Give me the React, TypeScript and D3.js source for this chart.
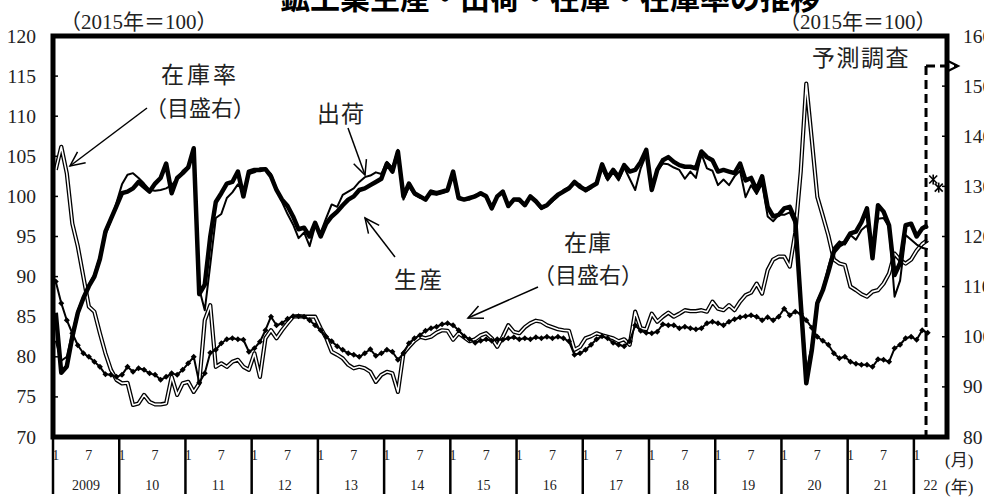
import React from 'react';
import * as d3 from 'd3';

// ---- data (Jan 2009 .. Mar 2022, monthly) ----
const yearLabels = ['2009', '10', '11', '12', '13', '14', '15', '16', '17', '18', '19', '20', '21', '22'];
const monthLabels = ['1', '7'];
const axisMonths = 162; // Jan 2009 .. Jun 2022

// 生産 (left axis)
const production = [
  85.5, 78.0, 78.8, 82.5, 85.5, 87.3, 88.8, 90.0, 92.2, 95.6, 97.2, 98.8,
  100.4, 100.6, 101.0, 101.8, 101.2, 100.6, 101.6, 102.3, 104.1, 100.4, 102.3, 102.9,
  103.6, 106.0, 87.8, 89.0, 95.0, 99.3, 100.4, 101.6, 101.8, 103.1, 100.0, 103.1,
  103.3, 103.3, 103.4, 102.5, 100.8, 99.6, 98.8, 97.5, 95.9, 96.1, 95.0, 96.7,
  95.0, 96.6, 97.5, 98.1, 98.9, 99.6, 100.0, 100.8, 101.0, 101.4, 101.8, 102.2,
  104.1, 103.1, 105.6, 100.0, 101.6, 100.4, 100.0, 99.6, 100.6, 100.4, 100.6, 100.8,
  103.1, 99.8, 99.6, 99.8, 100.0, 100.4, 100.0, 98.5, 100.0, 100.6, 98.8, 99.6,
  99.6, 98.9, 100.0, 99.4, 98.6, 98.9, 99.6, 100.2, 100.6, 101.0, 101.8, 101.2,
  100.8, 101.2, 101.6, 104.0, 102.3, 103.3, 102.4, 103.9, 103.1, 103.3, 104.3, 105.8,
  100.8, 103.3, 104.5, 104.9, 104.3, 103.9, 103.7, 103.7, 103.5, 105.6, 104.9, 104.5,
  103.1, 103.3, 103.1, 102.9, 104.1, 102.0, 102.3, 100.8, 102.5, 98.7, 97.5, 97.7,
  98.5, 98.7, 97.1, 86.7, 76.7, 80.8, 86.7, 88.3, 90.6, 93.1, 93.9, 94.3,
  95.4, 95.6, 96.8, 98.5, 92.3, 98.9, 98.1, 96.4, 90.2, 91.7, 96.4, 96.6,
  95.0, 96.0, 96.4,
];

// 出荷 (left axis)
const shipments = [
  82.0, 79.5, 80.0, 83.0, 85.8, 87.5, 89.0, 90.3, 92.5, 95.2, 97.0, 99.2,
  101.5, 102.7, 102.9, 102.3, 101.6, 100.8, 100.7, 100.8, 101.0, 101.4, 102.2, 103.2,
  103.8, 105.0, 88.5, 85.8, 91.5, 97.3, 97.8, 99.8, 100.5, 101.5, 100.6, 102.8,
  103.0, 103.5, 103.5, 102.8, 101.0, 99.3, 97.8, 96.5, 94.8, 95.5, 93.8, 96.3,
  95.5, 97.3, 99.0, 98.7, 100.2, 100.6, 101.0, 101.8, 102.4, 102.6, 103.0, 102.8,
  104.3, 103.6, 105.8, 99.6, 101.2, 100.2, 99.8, 99.8, 100.3, 100.2, 100.4, 100.6,
  102.8, 100.0, 99.6, 99.6, 100.2, 100.2, 100.2, 98.8, 100.0, 100.4, 98.8, 99.6,
  99.4, 99.0, 99.8, 99.2, 98.4, 98.8, 99.4, 100.0, 100.8, 101.2, 101.6, 101.5,
  100.6, 101.0, 101.8, 103.4, 102.0, 103.0, 102.0, 103.6, 102.2, 100.8, 103.5, 105.2,
  100.8, 103.2, 104.1, 104.0, 103.6, 103.3, 102.2, 103.1, 102.3, 105.3, 103.5, 103.2,
  101.4, 102.1, 101.4, 102.5, 103.2, 99.9, 101.4, 100.3, 101.6, 97.5, 96.9, 97.7,
  97.7, 98.0, 96.5, 87.5, 78.0, 81.5, 87.0, 88.5, 91.2, 93.6, 94.4, 94.0,
  95.2, 94.6, 95.8, 96.4, 93.8, 97.2, 97.3, 96.2, 87.5, 89.5, 95.2, 94.6,
  94.0, 93.6, 93.4,
];

// 在庫 (right axis)
const inventory = [
  111.0, 106.7, 103.3, 100.7, 98.3, 96.7, 96.0, 95.0, 94.0, 92.5, 92.4, 92.0,
  92.4, 94.0, 93.0, 93.7, 93.4, 92.7, 92.4, 91.4, 92.0, 92.7, 92.4, 93.4,
  94.7, 96.0, 90.8, 92.7, 96.8, 97.4, 98.7, 99.5, 99.7, 99.5, 99.4, 97.0,
  97.7, 99.0, 101.3, 104.0, 102.3, 102.7, 103.6, 104.1, 104.1, 104.0, 103.3, 102.3,
  101.3, 100.0, 99.1, 98.1, 97.4, 96.7, 96.4, 96.0, 96.7, 97.5, 96.2, 96.7,
  97.4, 97.0, 95.4, 96.7, 98.7, 99.7, 100.3, 101.2, 101.7, 102.0, 102.5, 102.7,
  102.3, 101.3, 100.1, 99.5, 98.8, 99.2, 99.5, 99.2, 99.5, 99.4, 99.7, 99.9,
  99.5, 99.7, 99.5, 99.9, 99.7, 100.0, 99.7, 100.0, 99.7, 99.1, 96.4, 96.7,
  97.4, 98.4, 99.5, 100.1, 99.7, 98.8, 98.4, 98.1, 99.1, 102.3, 101.2, 100.8,
  100.7, 101.0, 102.5, 102.3, 102.3, 101.7, 102.0, 101.7, 101.5, 101.7, 102.7, 103.0,
  102.7, 102.3, 103.0, 103.5, 103.9, 104.1, 104.3, 104.0, 103.3, 103.9, 103.3, 104.0,
  105.6, 104.3, 105.0, 104.6, 103.3, 101.8, 100.0, 99.2, 98.4, 96.7, 95.7, 96.0,
  95.0, 94.6, 94.4, 94.4, 94.0, 95.5, 95.4, 95.0, 97.7, 98.4, 99.7, 100.0,
  99.4, 101.3, 100.8,
];

// 在庫率 (right axis)
const inventoryRatio = [
  133.3, 137.9, 132.6, 122.6, 118.0, 112.0, 106.0, 105.0, 100.7, 96.7, 93.4, 91.4,
  90.7, 90.8, 86.4, 86.7, 88.4, 87.0, 86.5, 86.5, 86.7, 92.0, 88.4, 90.7,
  91.0, 89.0, 90.7, 103.3, 106.3, 94.0, 94.7, 94.0, 95.0, 95.4, 94.0, 93.4,
  96.7, 92.0, 99.7, 101.3, 99.7, 101.3, 102.7, 104.0, 104.1, 104.0, 104.0, 104.0,
  101.7, 99.8, 97.0, 96.4, 95.7, 94.4, 93.7, 94.0, 93.7, 93.0, 91.0, 92.4,
  93.0, 92.7, 89.0, 96.7, 98.0, 99.2, 100.0, 99.7, 100.0, 100.8, 101.3, 101.2,
  99.4, 100.7, 99.9, 99.1, 99.5, 100.3, 100.7, 99.7, 98.0, 100.0, 102.3, 101.0,
  100.7, 101.9, 102.7, 103.2, 103.0, 102.3, 101.9, 101.5, 101.3, 101.2, 97.4, 98.0,
  99.7, 100.1, 100.7, 100.3, 100.0, 99.7, 99.1, 99.5, 98.4, 105.0, 101.7, 101.5,
  104.6, 103.0, 104.0, 104.8, 104.0, 104.6, 105.3, 105.1, 105.1, 105.3, 105.0, 107.0,
  105.6, 105.3, 106.3, 105.3, 107.0, 108.3, 108.8, 110.6, 108.6, 113.3, 115.4, 116.0,
  116.0, 114.0, 120.7, 133.0, 150.5, 139.3, 127.9, 124.1, 120.2, 115.4, 114.6, 114.3,
  110.0, 109.3, 108.5, 108.0, 109.0, 109.3, 110.6, 112.6, 116.6, 115.3, 114.6, 115.4,
  117.2, 118.5, 119.3,
];

// 予測調査 (production forecast, Apr & May 2022)
const forecastIndex = [159, 160];
const forecastProduction = [102.1, 101.1];
const forecastStart = 158.2;

const leftTicks = [70, 75, 80, 85, 90, 95, 100, 105, 110, 115, 120];
const rightTicks = [80, 90, 100, 110, 120, 130, 140, 150, 160];

const SERIF = "'Liberation Serif', 'Noto Sans CJK JP', serif";
const CJK = "'Noto Sans CJK JP', 'Liberation Serif', sans-serif";

function Arrow({ x1, y1, x2, y2 }: { x1: number; y1: number; x2: number; y2: number }) {
  const ang = Math.atan2(y1 - y2, x1 - x2);
  const L = 16;
  const t = (25 * Math.PI) / 180;
  const a1 = [x2 + L * Math.cos(ang + t), y2 + L * Math.sin(ang + t)];
  const a2 = [x2 + L * Math.cos(ang - t), y2 + L * Math.sin(ang - t)];
  return (
    <g stroke="#000" strokeWidth={1.5} fill="none">
      <line x1={x1} y1={y1} x2={x2} y2={y2} />
      <polyline points={`${a1[0]},${a1[1]} ${x2},${y2} ${a2[0]},${a2[1]}`} />
    </g>
  );
}

export default function App() {
  const W = 984;
  const H = 499;
  const x0 = 53;
  const x1 = 947;
  const yTop = 36;
  const yBot = 437;

  const x = d3.scaleLinear().domain([0, axisMonths]).range([x0, x1]);
  const yL = d3.scaleLinear().domain([70, 120]).range([yBot, yTop]);
  const yR = d3.scaleLinear().domain([80, 160]).range([yBot, yTop]);

  const lineL = d3
    .line<number>()
    .x((_, i) => x(i + 0.5))
    .y((d) => yL(d));
  const lineR = d3
    .line<number>()
    .x((_, i) => x(i + 0.5))
    .y((d) => yR(d));

  const years = yearLabels.map((lab, k) => ({ lab, start: k * 12, end: Math.min(k * 12 + 12, axisMonths) }));
  const fx = x(forecastStart);
  const arrowY = 66;

  return (
    <svg
      width={W}
      height={H}
      style={{ position: 'absolute', left: 0, top: 0, background: '#fff' }}
      xmlns="http://www.w3.org/2000/svg"
    >
      <rect x={0} y={0} width={W} height={H} fill="#fff" />
      {/* title (cut off at the top, as in the reference) */}
      <text x={550} y={9} textAnchor="middle" fontFamily={CJK} fontSize={30} fontWeight={700} fill="#000">
        鉱工業生産・出荷・在庫・在庫率の推移
      </text>
      <text x={60} y={29} fontFamily={SERIF} fontSize={21} fill="#222">
        （2015年＝100）
      </text>
      <text x={779} y={29} fontFamily={SERIF} fontSize={21} fill="#222">
        （2015年＝100）
      </text>

      {/* left axis labels */}
      {leftTicks.map((t) => (
        <text key={'l' + t} x={36} y={yL(t)} textAnchor="end" dominantBaseline="central" fontFamily={SERIF} fontSize={19.5} fill="#222">
          {t}
        </text>
      ))}
      {leftTicks.slice(1, -1).map((t) => (
        <line key={'lt' + t} x1={x0} x2={x0 + 5} y1={yL(t)} y2={yL(t)} stroke="#000" strokeWidth={1.5} />
      ))}
      {/* right axis labels (run past the page edge, as in the reference) */}
      {rightTicks.map((t) => (
        <text key={'r' + t} x={963} y={yR(t)} dominantBaseline="central" fontFamily={SERIF} fontSize={19.5} fill="#222">
          {t}
        </text>
      ))}
      {rightTicks.slice(1, -1).map((t) => (
        <line key={'rt' + t} x1={x1 - 5} x2={x1} y1={yR(t)} y2={yR(t)} stroke="#000" strokeWidth={1.5} />
      ))}

      {/* series */}
      <path d={lineR(inventoryRatio) ?? ''} fill="none" stroke="#000" strokeWidth={4.2} strokeLinejoin="round" />
      <path d={lineR(inventoryRatio) ?? ''} fill="none" stroke="#fff" strokeWidth={1.6} strokeLinejoin="round" />
      <path d={lineR(inventory) ?? ''} fill="none" stroke="#000" strokeWidth={2} strokeLinejoin="round" />
      {inventory.map((d, i) => (
        <path key={'dm' + i} d="M0,-3L3,0L0,3L-3,0Z" transform={`translate(${x(i + 0.5)},${yR(d)})`} fill="#000" />
      ))}
      <path d={lineL(shipments) ?? ''} fill="none" stroke="#000" strokeWidth={2} strokeLinejoin="round" />
      <path d={lineL(production) ?? ''} fill="none" stroke="#000" strokeWidth={4.5} strokeLinejoin="round" />

      {/* forecast markers */}
      {forecastIndex.map((fi, k) => (
        <g key={'fc' + fi} transform={`translate(${x(fi + 0.5)},${yL(forecastProduction[k])})`} stroke="#000" strokeWidth={1.6}>
          <line x1={0} y1={-5} x2={0} y2={5} />
          <line x1={-4} y1={-4} x2={4} y2={4} />
          <line x1={-4} y1={4} x2={4} y2={-4} />
        </g>
      ))}

      {/* forecast boundary */}
      <line x1={fx} x2={fx} y1={arrowY} y2={yBot} stroke="#000" strokeWidth={3} strokeDasharray="9,5" />
      <line x1={fx} x2={957} y1={arrowY} y2={arrowY} stroke="#000" strokeWidth={3} strokeDasharray="9,5" />
      <polyline points={`946,60 958,${arrowY} 946,72`} fill="none" stroke="#000" strokeWidth={2.2} />
      <text x={861} y={66} textAnchor="middle" fontFamily={CJK} fontSize={23} letterSpacing={1.5} fill="#222">
        予測調査
      </text>

      {/* frame */}
      <rect x={x0} y={yTop} width={x1 - x0} height={yBot - yTop} fill="none" stroke="#000" strokeWidth={5} />

      {/* x axis: months and years */}
      {years.map((yr) => (
        <g key={'y' + yr.lab}>
          <line x1={x(yr.start)} x2={x(yr.start)} y1={yBot} y2={494} stroke="#000" strokeWidth={2.5} />
          {[0, 6].map((m, j) =>
            yr.start + m < yr.end ? (
              <text key={m} x={x(yr.start + m + 0.5)} y={460} textAnchor="middle" fontFamily={SERIF} fontSize={14} fill="#222">
                {monthLabels[j]}
              </text>
            ) : null
          )}
          <text x={(x(yr.start) + x(yr.end)) / 2} y={490} textAnchor="middle" fontFamily={SERIF} fontSize={14} fill="#222">
            {yr.lab}
          </text>
        </g>
      ))}
      <text x={945} y={466} fontFamily={SERIF} fontSize={17} fill="#222">(月)</text>
      <text x={945} y={493} fontFamily={SERIF} fontSize={17} fill="#222">(年)</text>

      {/* annotations */}
      <text x={200} y={83} textAnchor="middle" fontFamily={CJK} fontSize={23} letterSpacing={3} fill="#222">在庫率</text>
      <text x={200} y={116} textAnchor="middle" fontFamily={CJK} fontSize={22} fill="#222">（目盛右）</text>
      <Arrow x1={147} y1={108} x2={70} y2={166} />
      <text x={341} y={122} textAnchor="middle" fontFamily={CJK} fontSize={23} letterSpacing={1} fill="#222">出荷</text>
      <Arrow x1={348} y1={128} x2={365} y2={175} />
      <text x={419} y={288} textAnchor="middle" fontFamily={CJK} fontSize={23} letterSpacing={2} fill="#222">生産</text>
      <Arrow x1={395} y1={257} x2={365} y2={218} />
      <text x={588} y={251} textAnchor="middle" fontFamily={CJK} fontSize={23} letterSpacing={1} fill="#222">在庫</text>
      <text x={588} y={283} textAnchor="middle" fontFamily={CJK} fontSize={22} fill="#222">（目盛右）</text>
      <Arrow x1={538} y1={287} x2={468} y2={318} />
    </svg>
  );
}
